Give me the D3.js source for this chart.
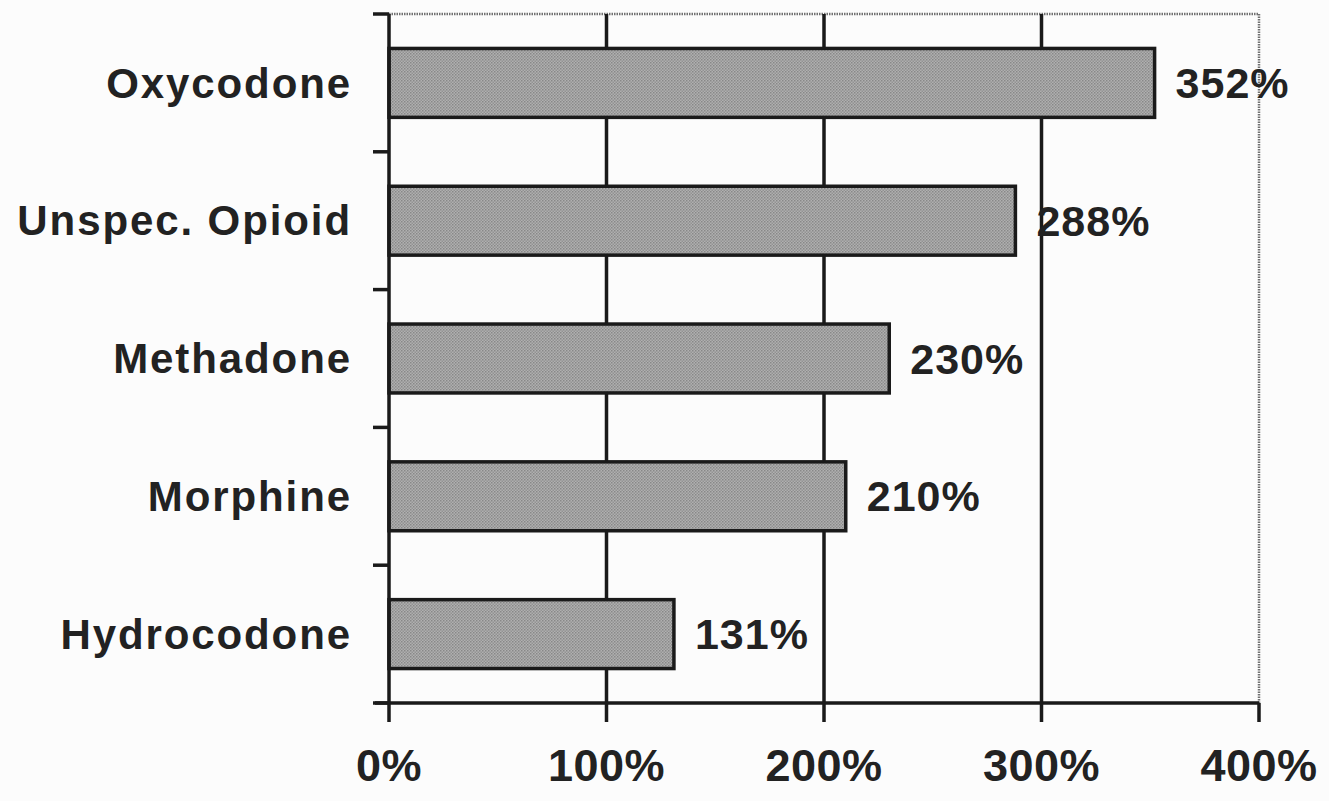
<!DOCTYPE html>
<html>
<head>
<meta charset="utf-8">
<script src="https://cdn.jsdelivr.net/npm/d3@7"></script>
<style>
  body { margin: 0; background: #fcfcfc; }
  text { font-family: "Liberation Sans", Arial, sans-serif; font-weight: bold; fill: #222; }
</style>
</head>
<body>
<div class="chart"></div>
<script>
// Opioid bar chart

// Data
let categories = ['Oxycodone', 'Unspec. Opioid', 'Methadone', 'Morphine', 'Hydrocodone'];
let values = [352, 288, 230, 210, 131];
let tickValues = [0, 100, 200, 300, 400];
let tickLabels = ['0%', '100%', '200%', '300%', '400%'];

// Margins
let margin = {top: 14, right: 70, bottom: 98, left: 389};
let width = 1329 - margin.left - margin.right;
let height = 801 - margin.top - margin.bottom;

// scales
let xScale = d3.scaleLinear().domain([0, 400]).range([0, width]);
let yScale = d3.scaleBand().domain(categories).range([0, height])
  .paddingInner(0.5).paddingOuter(0.25);

let svg = d3.select('.chart')
  .append('svg')
  .attr('width', 1329)
  .attr('height', 801)
  .append('g')
  .attr('transform', 'translate(' + margin.left + ',' + margin.top + ')');

// halftone look for bars
let defs = svg.append('defs');
let pat = defs.append('pattern')
  .attr('id', 'dots')
  .attr('width', 3)
  .attr('height', 3)
  .attr('patternUnits', 'userSpaceOnUse');
pat.append('rect').attr('width', 3).attr('height', 3).attr('fill', '#b0b0b0');
pat.append('rect').attr('width', 1.5).attr('height', 1.5).attr('fill', '#888');
pat.append('rect').attr('x', 1.5).attr('y', 1.5).attr('width', 1.5).attr('height', 1.5).attr('fill', '#939393');

// top and right border (dotted grey)
svg.append('line')
  .attr('x1', 0).attr('x2', xScale(400))
  .attr('y1', 0).attr('y2', 0)
  .attr('stroke', '#707070')
  .attr('stroke-width', 2.5)
  .attr('stroke-dasharray', '1.5,1');
svg.append('line')
  .attr('x1', xScale(400)).attr('x2', xScale(400))
  .attr('y1', 0).attr('y2', height)
  .attr('stroke', '#707070')
  .attr('stroke-width', 2.5)
  .attr('stroke-dasharray', '1.5,1');

// vertical gridlines
svg.selectAll('.grid')
  .data([100, 200, 300])
  .enter().append('line')
  .attr('class', 'grid')
  .attr('x1', d => xScale(d)).attr('x2', d => xScale(d))
  .attr('y1', 0).attr('y2', height)
  .attr('stroke', '#1a1a1a')
  .attr('stroke-width', 3.5);

// bars
svg.selectAll('.bar')
  .data(values)
  .enter().append('rect')
  .attr('class', 'bar')
  .attr('x', 0)
  .attr('y', (d, i) => yScale(categories[i]))
  .attr('width', d => xScale(d))
  .attr('height', yScale.bandwidth())
  .attr('fill', 'url(#dots)')
  .attr('stroke', '#1a1a1a')
  .attr('stroke-width', 3.5);

// value labels
svg.selectAll('.val')
  .data(values)
  .enter().append('text')
  .attr('class', 'val')
  .attr('x', d => xScale(d) + 21)
  .attr('y', (d, i) => yScale(categories[i]) + yScale.bandwidth() / 2)
  .attr('dy', '0.35em')
  .style('font-size', '43px')
  .style('letter-spacing', '1px')
  .text(d => d + '%');

// x axis
svg.append('line')
  .attr('x1', -14).attr('x2', xScale(400))
  .attr('y1', height).attr('y2', height)
  .attr('stroke', '#1a1a1a')
  .attr('stroke-width', 3.5);
svg.selectAll('.xtick')
  .data(tickValues)
  .enter().append('line')
  .attr('class', 'xtick')
  .attr('x1', d => xScale(d)).attr('x2', d => xScale(d))
  .attr('y1', height).attr('y2', height + 19)
  .attr('stroke', '#1a1a1a')
  .attr('stroke-width', 3.5);
svg.selectAll('.xlabel')
  .data(tickValues)
  .enter().append('text')
  .attr('class', 'xlabel')
  .attr('x', d => xScale(d))
  .attr('y', height + 78)
  .attr('text-anchor', 'middle')
  .style('font-size', '45px')
  .style('letter-spacing', '0.5px')
  .text((d, i) => tickLabels[i]);

// y axis
svg.append('line')
  .attr('x1', 0).attr('x2', 0)
  .attr('y1', 0).attr('y2', height)
  .attr('stroke', '#1a1a1a')
  .attr('stroke-width', 3.5);
svg.selectAll('.ytick')
  .data(d3.range(categories.length + 1))
  .enter().append('line')
  .attr('class', 'ytick')
  .attr('x1', -16).attr('x2', 0)
  .attr('y1', d => d * yScale.step()).attr('y2', d => d * yScale.step())
  .attr('stroke', '#1a1a1a')
  .attr('stroke-width', 3.5);
svg.selectAll('.ylabel')
  .data(categories)
  .enter().append('text')
  .attr('class', 'ylabel')
  .attr('x', -37)
  .attr('y', d => yScale(d) + yScale.bandwidth() / 2)
  .attr('dy', '0.35em')
  .attr('text-anchor', 'end')
  .style('font-size', '42px')
  .style('letter-spacing', '1.9px')
  .text(d => d);
</script>
</body>
</html>
